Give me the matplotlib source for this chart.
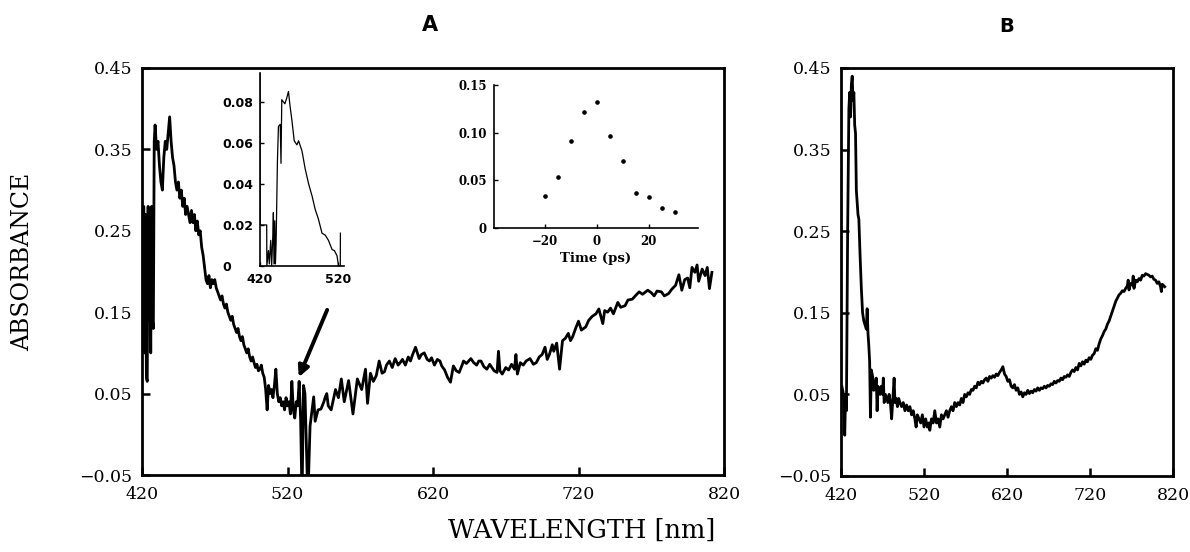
import matplotlib
matplotlib.use("Agg")
import matplotlib.pyplot as plt
from matplotlib.ticker import FixedLocator, FixedFormatter

# ---- panel A: transient spectrum, (wavelength nm, absorbance) ----
spec_a = [
    (420.0, 0.27), (420.6, 0.13), (421.2, 0.28), (421.8, 0.10), (422.4, 0.27), (423.0, 0.07),
    (423.6, 0.065), (424.2, 0.28), (424.8, 0.14), (425.4, 0.27), (426.0, 0.10), (426.6, 0.28),
    (427.2, 0.14), (427.8, 0.13), (428.4, 0.36), (429, 0.38), (430, 0.35), (431, 0.36),
    (432, 0.33), (433, 0.31), (434, 0.30), (435, 0.34), (436, 0.36), (437, 0.35), (438, 0.37),
    (439, 0.39), (440, 0.36), (441, 0.34), (442, 0.33), (443, 0.31), (444, 0.30), (445, 0.31),
    (446, 0.29), (447, 0.30), (448, 0.28), (449, 0.29), (450, 0.27), (451, 0.28), (452, 0.27),
    (453, 0.26), (454, 0.275), (455, 0.26), (456, 0.27), (457, 0.25), (458, 0.262), (459, 0.245),
    (460, 0.25), (461, 0.23), (462, 0.22), (463, 0.205), (464, 0.19), (465, 0.185), (466, 0.195),
    (467, 0.18), (468, 0.19), (469, 0.185), (470, 0.19), (471, 0.18), (472, 0.175), (473, 0.17),
    (474, 0.165), (475, 0.17), (476, 0.16), (477, 0.155), (478, 0.16), (479, 0.15), (480, 0.145),
    (481, 0.14), (482, 0.145), (483, 0.135), (484, 0.13), (485, 0.125), (486, 0.13), (487, 0.12),
    (488, 0.115), (489, 0.12), (490, 0.11), (491, 0.105), (492, 0.10), (493, 0.105), (494, 0.095),
    (495, 0.09), (496, 0.095), (497, 0.088), (498, 0.082), (499, 0.086), (500, 0.078), (501, 0.08),
    (502, 0.085), (503, 0.075), (504, 0.07), (505, 0.055), (506, 0.03), (507, 0.06), (508, 0.05),
    (509, 0.055), (510, 0.045), (511, 0.06), (512, 0.08), (513, 0.05), (514, 0.04), (515, 0.045),
    (516, 0.035), (517, 0.04), (518, 0.03), (519, 0.045), (520, 0.035), (521, 0.04), (522, 0.025),
    (523, 0.065), (524, 0.03), (525, 0.02), (526, 0.04), (527, 0.035), (528, 0.065), (529, 0.02),
    (530, -0.08), (531, 0.06), (532, 0.05), (534, -0.08), (535.5, 0.01), (538, 0.046),
    (539, 0.016), (541, 0.03), (543, 0.031), (545, 0.04), (546, 0.046), (547, 0.05), (548, 0.035),
    (550, 0.03), (553, 0.055), (555, 0.045), (557, 0.068), (559, 0.04), (562, 0.066), (565, 0.025),
    (568, 0.068), (571, 0.055), (573.6, 0.08), (575, 0.038), (577, 0.075), (579, 0.065),
    (581, 0.072), (583, 0.09), (585, 0.075), (586.7, 0.077), (588, 0.085), (590, 0.09),
    (592, 0.082), (594, 0.093), (596, 0.085), (597, 0.087), (599, 0.092), (601, 0.085),
    (603, 0.095), (604.5, 0.09), (606, 0.098), (608, 0.107), (610.5, 0.093), (612, 0.098),
    (614, 0.10), (616, 0.092), (617.6, 0.09), (619, 0.094), (621, 0.085), (623, 0.092),
    (624.8, 0.09), (626, 0.084), (628, 0.079), (630, 0.07), (632, 0.064), (634, 0.084),
    (636, 0.078), (638, 0.076), (640, 0.085), (641, 0.09), (643, 0.087), (646, 0.093),
    (648, 0.088), (650, 0.085), (651.5, 0.09), (653, 0.09), (655, 0.083), (657, 0.08),
    (659, 0.086), (660.5, 0.082), (662, 0.078), (664, 0.076), (665, 0.102), (666, 0.078),
    (667.6, 0.074), (670, 0.082), (672, 0.079), (674, 0.086), (676, 0.08), (677, 0.098),
    (678, 0.074), (680, 0.088), (682, 0.085), (684, 0.09), (686.7, 0.093), (689, 0.086),
    (691, 0.088), (693, 0.095), (695, 0.098), (697, 0.107), (698.5, 0.092), (700, 0.098),
    (702, 0.11), (703, 0.102), (705, 0.112), (707, 0.08), (709, 0.115), (711, 0.118),
    (713, 0.124), (714.5, 0.115), (716, 0.12), (718, 0.13), (720, 0.139), (722, 0.128),
    (725, 0.132), (727, 0.14), (729.5, 0.145), (732, 0.148), (734, 0.154), (736.7, 0.136),
    (738, 0.152), (740, 0.15), (742, 0.155), (744, 0.148), (747, 0.162), (749, 0.156),
    (752, 0.158), (754, 0.165), (757, 0.166), (759, 0.17), (761.7, 0.175), (764, 0.172),
    (767.6, 0.177), (770, 0.174), (772, 0.17), (774, 0.176), (777, 0.175), (779, 0.17),
    (782, 0.173), (784, 0.178), (786.7, 0.183), (789, 0.196), (791, 0.177), (793, 0.19),
    (795, 0.192), (796.5, 0.18), (798, 0.205), (800, 0.199), (801.5, 0.208), (802.6, 0.188),
    (805, 0.203), (807, 0.195), (808.5, 0.205), (810, 0.179), (811.7, 0.199),
]
wl_a = [p[0] for p in spec_a]
abs_a = [p[1] for p in spec_a]

# ---- panel B ----
spec_b = [
    (421, 0.06), (423, 0.05), (424.5, 0.0), (425.5, 0.05), (426.5, 0.03), (428, 0.25),
    (429.5, 0.40), (430.5, 0.42), (431.5, 0.39), (432.5, 0.43), (433.5, 0.44), (434.5, 0.41),
    (435.5, 0.42), (436.5, 0.38), (437.5, 0.37), (438.5, 0.30), (439.5, 0.285), (440.5, 0.27),
    (441.5, 0.265), (443, 0.22), (444.5, 0.18), (446, 0.15), (447.5, 0.14), (449, 0.135),
    (450.5, 0.13), (451.5, 0.155), (452.5, 0.125), (453.5, 0.11), (454.5, 0.09), (455.5, 0.022),
    (456.5, 0.08), (457.5, 0.075), (458.5, 0.07), (459.5, 0.055), (460.5, 0.065), (461.5, 0.06),
    (462.5, 0.07), (463.5, 0.03), (464.5, 0.06), (465.5, 0.055), (467, 0.05), (468.5, 0.06),
    (470, 0.05), (471, 0.07), (472, 0.04), (473.5, 0.05), (475, 0.045), (476.5, 0.04),
    (478, 0.05), (479.5, 0.04), (481, 0.02), (482.5, 0.045), (484, 0.07), (485, 0.04),
    (486.5, 0.045), (488, 0.035), (489.5, 0.045), (491, 0.04), (493, 0.035), (495, 0.04),
    (497, 0.03), (499, 0.037), (501, 0.03), (503, 0.035), (505, 0.025), (507, 0.03), (509, 0.02),
    (510.5, 0.01), (512, 0.025), (514, 0.02), (516, 0.015), (518, 0.025), (520, 0.01), (522, 0.02),
    (524, 0.01), (526, 0.015), (527, 0.006), (529, 0.02), (531, 0.015), (533, 0.03), (535, 0.015),
    (537, 0.02), (539, 0.01), (541, 0.025), (543, 0.02), (545, 0.025), (547, 0.03), (549, 0.022),
    (551, 0.03), (553, 0.035), (555, 0.03), (557, 0.04), (559, 0.035), (561, 0.04), (563, 0.037),
    (565, 0.045), (567, 0.04), (569, 0.05), (571, 0.047), (573, 0.052), (575, 0.05), (577, 0.056),
    (579, 0.055), (581, 0.06), (583, 0.058), (585, 0.065), (587, 0.062), (589, 0.066), (591, 0.064),
    (593, 0.068), (595, 0.07), (597, 0.066), (599, 0.072), (601, 0.07), (603, 0.073), (605, 0.071),
    (607, 0.075), (609, 0.073), (611, 0.077), (613, 0.08), (615, 0.084), (617, 0.075), (619, 0.072),
    (621, 0.066), (623, 0.068), (625, 0.06), (627, 0.058), (629, 0.062), (631, 0.055), (633, 0.058),
    (635, 0.05), (637, 0.053), (639, 0.047), (641, 0.052), (643, 0.05), (645, 0.055), (647, 0.051),
    (649, 0.054), (651, 0.052), (653, 0.056), (655, 0.054), (657, 0.058), (659, 0.055), (661, 0.058),
    (663, 0.057), (665, 0.06), (667, 0.058), (669, 0.061), (671, 0.06), (673, 0.063), (675, 0.062),
    (677, 0.066), (679, 0.064), (681, 0.067), (683, 0.066), (685, 0.07), (687, 0.068), (689, 0.072),
    (691, 0.071), (693, 0.074), (695, 0.072), (697, 0.077), (699, 0.08), (701, 0.078), (703, 0.083),
    (705, 0.08), (707, 0.088), (709, 0.085), (711, 0.09), (713, 0.087), (715, 0.092), (717, 0.09),
    (719, 0.095), (721, 0.093), (723, 0.098), (725, 0.10), (727, 0.106), (729, 0.104), (731, 0.112),
    (733, 0.118), (735, 0.122), (737, 0.127), (739, 0.13), (741, 0.136), (743, 0.14), (745, 0.146),
    (747, 0.152), (749, 0.158), (751, 0.164), (753, 0.168), (755, 0.172), (757, 0.174), (759, 0.177),
    (761, 0.176), (763, 0.18), (765, 0.183), (766, 0.19), (767, 0.178), (769, 0.186), (771, 0.184),
    (772, 0.195), (773, 0.18), (775, 0.19), (777, 0.188), (779, 0.192), (781, 0.19), (783, 0.196),
    (785, 0.195), (787, 0.198), (789, 0.197), (791, 0.196), (793, 0.194), (795, 0.195), (797, 0.191),
    (799, 0.19), (801, 0.186), (803, 0.188), (805, 0.182), (806, 0.176), (807, 0.185), (809, 0.183),
    (810, 0.182),
]
wl_b = [p[0] for p in spec_b]
abs_b = [p[1] for p in spec_b]

# ---- inset 1 (panel A, 420-525 nm) ----
spec_in1 = [
    (420, 0.094), (420.2, 0.02), (428.6, 0.02), (428.8, 0.0), (430.8, 0.0075), (432, 0.001),
    (433.8, 0.0125), (435, 0.0), (436.4, 0.014), (437.2, 0.026), (438, 0.001), (439, 0.022),
    (439.8, 0.001), (440.7, 0.011), (442.4, 0.051), (443.7, 0.068), (446, 0.069), (447, 0.05),
    (448, 0.081), (452, 0.079), (454.5, 0.082), (456.6, 0.085), (458.6, 0.078), (461, 0.071),
    (464, 0.061), (467.5, 0.059), (469.6, 0.061), (474, 0.056), (478, 0.0475), (482.5, 0.04),
    (487, 0.034), (491, 0.0275), (495, 0.023), (499.7, 0.016), (504, 0.015), (508, 0.0125),
    (512.7, 0.008), (515.7, 0.0075), (519, 0.005), (521, 0.0), (523.2, 0.0), (523.4, 0.016),
]
wl_in1 = [p[0] for p in spec_in1]
abs_in1 = [p[1] for p in spec_in1]

# ---- inset 2: kinetics ----
t_ps = [-20, -15, -10, -5, 0, 5, 10, 15, 20, 25, 30]
abs_t = [0.034, 0.054, 0.091, 0.122, 0.132, 0.097, 0.070, 0.037, 0.032, 0.021, 0.017]

main_ticks = [420, 520, 620, 720, 820]
main_yticks = [-0.05, 0.05, 0.15, 0.25, 0.35, 0.45]
main_ylabels = ["\u22120.05", "0.05", "0.15", "0.25", "0.35", "0.45"]

W, H = 1190, 552
fig = plt.figure(figsize=(W / 100, H / 100), dpi=100)
serif = "DejaVu Serif"


def style_main(ax):
    ax.set_xlim(420, 820)
    ax.set_ylim(-0.05, 0.45)
    for s in ax.spines.values():
        s.set_linewidth(2.0)
    ax.xaxis.set_major_locator(FixedLocator(main_ticks))
    ax.yaxis.set_major_locator(FixedLocator(main_yticks))
    ax.yaxis.set_major_formatter(FixedFormatter(main_ylabels))
    ax.tick_params(direction="in", length=6, width=1.8, labelsize=12.5, pad=7)
    ax.tick_params(axis="x", pad=8)
    for lab in ax.get_xticklabels() + ax.get_yticklabels():
        lab.set_fontfamily(serif)


axA = fig.add_axes([142 / W, 1 - 475 / H, 582 / W, 407 / H])
axA.plot(wl_a, abs_a, color="black", lw=2.0)
style_main(axA)
axA.annotate("", xy=(527, 0.067), xytext=(548, 0.156),
             arrowprops=dict(arrowstyle="-|>", lw=2.8, color="black", mutation_scale=16))

axB = fig.add_axes([841 / W, 1 - 476 / H, 332 / W, 408 / H])
axB.plot(wl_b, abs_b, color="black", lw=2.0)
style_main(axB)

# inset 1
ax1 = fig.add_axes([260 / W, 1 - 266 / H, 84 / W, 193 / H])
ax1.plot(wl_in1, abs_in1, color="black", lw=0.9)
ax1.set_xlim(420, 528)
ax1.set_ylim(0, 0.094)
ax1.spines[["top", "right"]].set_visible(False)
for s in ax1.spines.values():
    s.set_linewidth(1.2)
ax1.xaxis.set_major_locator(FixedLocator([420, 520]))
ax1.yaxis.set_major_locator(FixedLocator([0, 0.02, 0.04, 0.06, 0.08]))
ax1.yaxis.set_major_formatter(FixedFormatter(["0", "0.02", "0.04", "0.06", "0.08"]))
ax1.tick_params(direction="in", length=3, width=1, labelsize=9)
ax1.tick_params(axis="y", pad=27)
ax1.tick_params(axis="x", pad=5)
for lab in ax1.get_xticklabels() + ax1.get_yticklabels():
    lab.set_fontweight("bold")
for lab in ax1.get_yticklabels():
    lab.set_horizontalalignment("left")

# inset 2
ax2 = fig.add_axes([494 / W, 1 - 228 / H, 204 / W, 143 / H])
ax2.plot(t_ps, abs_t, "o", color="black", ms=2.3)
ax2.set_xlim(-39.5, 39)
ax2.set_ylim(0, 0.15)
ax2.spines[["top", "right"]].set_visible(False)
for s in ax2.spines.values():
    s.set_linewidth(1.2)
ax2.xaxis.set_major_locator(FixedLocator([-20, 0, 20]))
ax2.xaxis.set_major_formatter(FixedFormatter(["\u221220", "0", "20"]))
ax2.yaxis.set_major_locator(FixedLocator([0, 0.05, 0.10, 0.15]))
ax2.yaxis.set_major_formatter(FixedFormatter(["0", "0.05", "0.10", "0.15"]))
ax2.tick_params(direction="in", length=3, width=1, labelsize=8.5, pad=5)
for lab in ax2.get_xticklabels() + ax2.get_yticklabels():
    lab.set_fontfamily(serif)
    lab.set_fontweight("bold")
ax2.set_xlabel("Time (ps)", fontfamily=serif, fontweight="bold", fontsize=9.5, labelpad=3)

# titles and axis labels
fig.text(430 / W, 1 - 25 / H, "A", ha="center", va="center", fontsize=15, fontweight="bold")
fig.text(1007 / W, 1 - 26 / H, "B", ha="center", va="center", fontsize=14, fontweight="bold")
fig.text(23 / W, 1 - 262 / H, "ABSORBANCE", rotation=90, ha="center", va="center",
         fontfamily=serif, fontsize=17)
fig.text(582 / W, 1 - 530 / H, "WAVELENGTH [nm]", ha="center", va="center",
         fontfamily=serif, fontsize=18.5)

fig.savefig("out.png", dpi=100)
